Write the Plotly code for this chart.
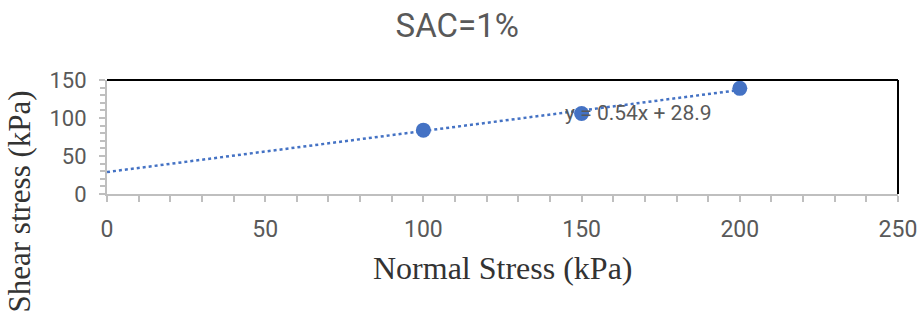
import numpy as np
import plotly.graph_objects as go

normal_stress = [100, 150, 200]
shear_stress = [84, 106, 139]
slope, intercept = 0.54, 28.9
trend_x = [0, 200]
equation_label = "y = 0.54x + 28.9"
title_text = "SAC=1%"
x_title = "Normal Stress (kPa)"
y_title = "Shear stress (kPa)"
x_ticks = [0, 50, 100, 150, 200, 250]
y_ticks = [0, 50, 100, 150]

blue = "#4472C4"
gray_txt = "#595959"

fig = go.Figure()
fig.add_trace(go.Scatter(
    x=trend_x, y=[slope * v + intercept for v in trend_x], mode="lines",
    line=dict(color=blue, width=2.5, dash="dot"), hoverinfo="skip", showlegend=False))
fig.add_trace(go.Scatter(
    x=normal_stress, y=shear_stress, mode="markers",
    marker=dict(color=blue, size=15), showlegend=False))

fig.add_annotation(x=144, y=106, xref="x", yref="y", text=equation_label,
                   showarrow=False, xanchor="left", yanchor="middle",
                   font=dict(family="Roboto", size=21, color=gray_txt))
fig.add_annotation(x=0.5, y=-0.65, xref="paper", yref="paper", text=x_title,
                   showarrow=False, xanchor="center", yanchor="middle",
                   font=dict(family="Liberation Serif", size=32, color="#333333"))
fig.add_annotation(x=-0.110, y=-0.066, xref="paper", yref="paper", text=y_title,
                   showarrow=False, xanchor="center", yanchor="middle", textangle=-90,
                   font=dict(family="Liberation Serif", size=31, color="#333333"))

# top and right border
fig.add_shape(type="line", xref="paper", yref="paper", x0=0, x1=1, y0=1, y1=1,
              line=dict(color="black", width=2))
fig.add_shape(type="line", xref="paper", yref="paper", x0=1, x1=1, y0=0, y1=1,
              line=dict(color="black", width=2))

fig.update_layout(
    width=920, height=317,
    margin=dict(l=107, r=22, t=80, b=123, autoexpand=False),
    paper_bgcolor="white", plot_bgcolor="white",
    title=dict(text=title_text, x=0.497, xanchor="center", y=0.92, yanchor="middle",
               font=dict(family="Roboto", size=33, color=gray_txt)),
    xaxis=dict(range=[0, 250], tickvals=x_ticks, showgrid=False, zeroline=False,
               automargin=False,
               showline=True, linecolor="#BFBFBF", linewidth=2,
               ticks="outside", ticklen=6, tickcolor="#BFBFBF", tickwidth=2,
               minor=dict(dtick=10, ticks="outside", ticklen=6, tickcolor="#BFBFBF", tickwidth=2),
               ticklabelstandoff=7,
               tickfont=dict(family="Roboto", size=23, color=gray_txt)),
    yaxis=dict(range=[0, 150], tickvals=y_ticks, showgrid=False, zeroline=False,
               automargin=False,
               showline=True, linecolor="#BFBFBF", linewidth=2,
               ticks="outside", ticklen=6, tickcolor="#BFBFBF", tickwidth=2,
               minor=dict(dtick=10, ticks="outside", ticklen=5, tickcolor="#BFBFBF", tickwidth=2),
               ticklabelstandoff=8,
               tickfont=dict(family="Roboto", size=22, color=gray_txt)),
)

fig.write_html("out.html", config={"displayModeBar": False},
               post_script="document.body.style.margin='0';document.body.style.overflow='hidden';")
